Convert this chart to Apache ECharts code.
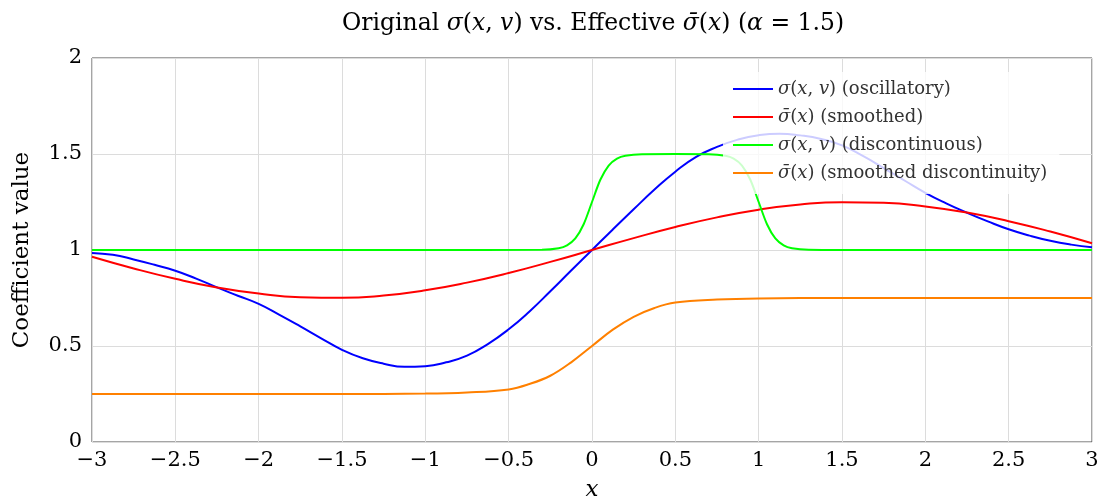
<!DOCTYPE html>
<html>
<head>
<meta charset="utf-8">
<script src="https://cdn.jsdelivr.net/npm/echarts@6/dist/echarts.min.js"></script>
<style>
  html, body { margin: 0; padding: 0; background: #fff; }
  #chart { width: 1111px; height: 503px; }
</style>
</head>
<body>
<div id="chart"></div>
<script>
// values
var xOsc = [-3, -2.875, -2.75, -2.625, -2.5, -2.375, -2.25, -2.125, -2, -1.875, -1.75, -1.625, -1.5,
            -1.375, -1.25, -1.125, -1, -0.875, -0.75, -0.625, -0.5, -0.375, -0.25, -0.125, 0,
            0.125, 0.25, 0.375, 0.5, 0.625, 0.75, 0.875, 1, 1.125, 1.25, 1.375, 1.5,
            1.625, 1.75, 1.875, 2, 2.125, 2.25, 2.375, 2.5, 2.625, 2.75, 2.875, 3];
var oscValues = [0.985, 0.975, 0.951, 0.923, 0.892, 0.851, 0.805, 0.762, 0.719, 0.662, 0.602, 0.540, 0.480,
                 0.436, 0.408, 0.392, 0.395, 0.415, 0.450, 0.510, 0.587, 0.680, 0.785, 0.893, 1.0,
                 1.107, 1.212, 1.315, 1.408, 1.485, 1.537, 1.575, 1.598, 1.606, 1.597, 1.578, 1.545,
                 1.490, 1.427, 1.362, 1.298, 1.243, 1.194, 1.149, 1.108, 1.075, 1.048, 1.028, 1.014];

var xSmooth = [-3, -2.75, -2.5, -2.25, -2, -1.75, -1.5, -1.25, -1, -0.75, -0.5, -0.25, 0,
               0.25, 0.5, 0.75, 1, 1.25, 1.5, 1.75, 2, 2.25, 2.5, 2.75, 3];
var smoothValues = [0.965, 0.904, 0.850, 0.805, 0.773, 0.754, 0.751, 0.763, 0.790, 0.830, 0.880, 0.938, 1.0,
                    1.062, 1.120, 1.170, 1.210, 1.237, 1.249, 1.246, 1.227, 1.195, 1.150, 1.096, 1.035];

var xDisc = [-3, -1, -0.3, -0.2, -0.15, -0.1, -0.05, 0, 0.05, 0.1, 0.15, 0.2, 0.3, 0.5,
             0.7, 0.8, 0.85, 0.9, 0.95, 1, 1.05, 1.1, 1.15, 1.2, 1.3, 1.5, 3];
var discValues = [1, 1, 1.001, 1.009, 1.024, 1.06, 1.134, 1.25, 1.366, 1.44, 1.476, 1.491, 1.499, 1.5,
                  1.499, 1.491, 1.476, 1.44, 1.366, 1.25, 1.134, 1.06, 1.024, 1.009, 1.001, 1, 1];

var xStep = [-3, -1.5, -1, -0.75, -0.5, -0.375, -0.25, -0.125, 0, 0.125, 0.25, 0.375, 0.5, 0.75, 1, 1.5, 3];
var stepValues = [0.25, 0.25, 0.252, 0.258, 0.274, 0.302, 0.345, 0.415, 0.5, 0.585, 0.652, 0.698, 0.726, 0.742, 0.748, 0.75, 0.75];

var seriesNames = ['osc', 'smooth', 'disc', 'step'];
var legendLabels = {
  osc: '{i|σ}({i|x}, {i|v}) (oscillatory)',
  smooth: '{i|σ̄}({i|x}) (smoothed)',
  disc: '{i|σ}({i|x}, {i|v}) (discontinuous)',
  step: '{i|σ̄}({i|x}) (smoothed discontinuity)'
};
var colors = ['#0000ff', '#ff0000', '#00ff00', '#ff8000'];

function pairs(xs, ys) {
  return xs.map(function (x, i) { return [x, ys[i]]; });
}
function minus(v) {
  return String(v).replace('-', '\u2212');
}

var serif = 'DejaVu Serif';
var chart = echarts.init(document.getElementById('chart'));
var option = {
  animation: false,
  color: colors,
  title: {
    left: 337,
    top: 7,
    text: '{r|Original }{i|σ}{r|(}{i|x}{r|, }{i|v}{r|) vs. Effective }{i|σ̄}{r|(}{i|x}{r|) (}{i|α}{r| = 1.5)}',
    textStyle: {
      rich: {
        r: { fontFamily: serif, fontSize: 23.5, fontWeight: 'normal', color: '#000' },
        i: { fontFamily: serif, fontSize: 23.5, fontWeight: 'normal', fontStyle: 'italic', color: '#000' }
      }
    }
  },
  grid: {
    left: 92, right: 19, top: 58, bottom: 61,
    outerBoundsMode: 'none',
    show: true, borderColor: '#4a4a4a', borderWidth: 1
  },
  legend: {
    orient: 'vertical',
    left: 723,
    top: 72,
    align: 'left',
    icon: 'rect',
    itemWidth: 40,
    itemHeight: 2,
    itemGap: 10,
    padding: [8, 12, 12, 10],
    backgroundColor: 'rgba(255,255,255,0.8)',
    data: seriesNames,
    formatter: function (name) { return legendLabels[name]; },
    textStyle: {
      fontFamily: serif, fontSize: 18, color: '#333',
      rich: {
        i: { fontFamily: serif, fontSize: 18, fontStyle: 'italic', color: '#333' }
      }
    }
  },
  xAxis: {
    type: 'value',
    min: -3, max: 3, interval: 0.5,
    name: 'x',
    nameLocation: 'middle',
    nameGap: 37,
    nameTextStyle: { fontFamily: serif, fontSize: 23, fontStyle: 'italic', color: '#000' },
    axisLine: { show: false },
    axisTick: { show: false },
    axisLabel: { fontFamily: serif, fontSize: 21, color: '#000', margin: 8, formatter: minus },
    splitLine: { lineStyle: { color: '#dcdcdc' } }
  },
  yAxis: {
    type: 'value',
    min: 0, max: 2, interval: 0.5,
    name: 'Coefficient value',
    nameLocation: 'middle',
    nameGap: 58,
    nameTextStyle: { fontFamily: serif, fontSize: 23, color: '#000' },
    axisLine: { show: false },
    axisTick: { show: false },
    axisLabel: { fontFamily: serif, fontSize: 21, color: '#000', margin: 10, formatter: minus },
    splitLine: { lineStyle: { color: '#dcdcdc' } }
  },
  series: [
    { name: 'osc', type: 'line', smooth: true, data: pairs(xOsc, oscValues) },
    { name: 'smooth', type: 'line', smooth: true, data: pairs(xSmooth, smoothValues) },
    { name: 'disc', type: 'line', smooth: 0.3, data: pairs(xDisc, discValues) },
    { name: 'step', type: 'line', smooth: 0.4, data: pairs(xStep, stepValues) }
  ].map(function (s) {
    s.symbol = 'none';
    s.lineStyle = { width: 2 };
    return s;
  })
};
chart.setOption(option);
</script>
</body>
</html>
